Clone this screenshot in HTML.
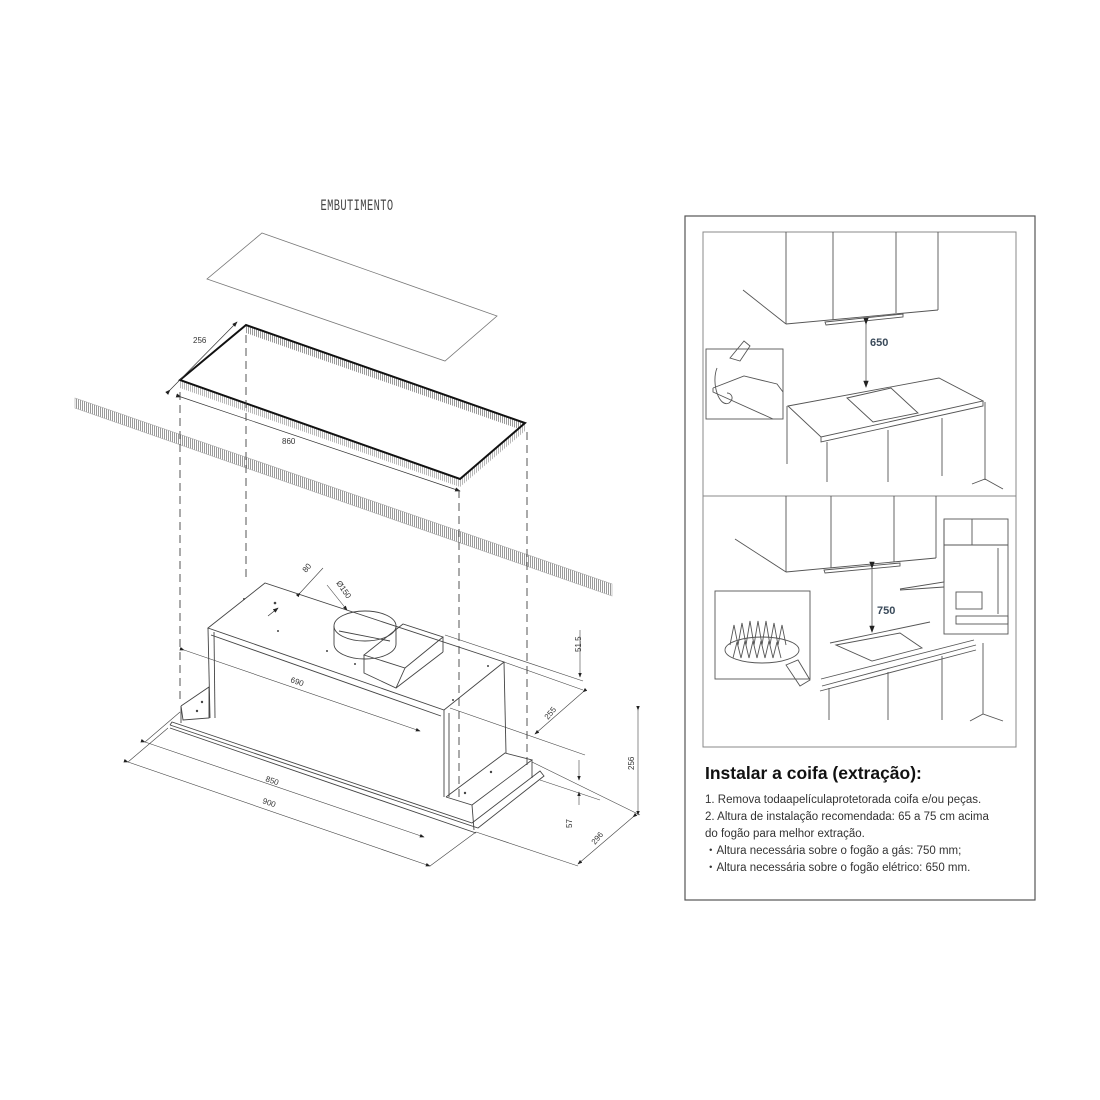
<!DOCTYPE html>
<html><head><meta charset="utf-8"><style>
html,body{margin:0;padding:0;background:#fff;}
svg{display:block;}
.t{font-family:"Liberation Sans Narrow","Liberation Sans",sans-serif;font-size:8px;fill:#333;}
.p{font-family:"Liberation Sans",sans-serif;fill:#333;}
</style></head><body>
<svg width="1100" height="1100" viewBox="0 0 1100 1100" xmlns="http://www.w3.org/2000/svg">
<defs>
<pattern id="h" width="2" height="4" patternUnits="userSpaceOnUse"><rect width="2" height="4" fill="#fff"/><rect width="1" height="4" fill="#999"/></pattern>
<marker id="a" markerWidth="8" markerHeight="6" refX="7" refY="3" orient="auto"><path d="M0,0L8,3L0,6z" fill="#222"/></marker>
</defs>
<rect width="1100" height="1100" fill="#fff"/>

<!-- LEFT DRAWING -->
<text x="357" y="209" text-anchor="middle" font-family="Liberation Mono,monospace" font-size="13" fill="#444" letter-spacing="0.5" transform="translate(357 205) scale(0.8 1.2) translate(-357 -205)">EMBUTIMENTO</text>
<polygon points="262,233 497,316 445,361 207,279" fill="none" stroke="#777" stroke-width="0.8"/>

<!-- long hatched bar -->
<polygon points="75,398 612,584 612,596 75,408" fill="url(#h)" stroke="#aaa" stroke-width="0.6"/>

<!-- frame -->
<polygon points="246,325 525,423 519,429 246,333" fill="url(#h)"/>
<polygon points="180,380 460,479 460,487 180,388" fill="url(#h)" opacity="0.7"/>
<polygon points="460,479 525,423 525,431 460,487" fill="url(#h)" opacity="0.7"/>
<polygon points="180,380 246,325 525,423 460,479" fill="none" stroke="#111" stroke-width="2"/>
<line x1="170" y1="390" x2="237" y2="322" stroke="#333" stroke-width="0.7" marker-end="url(#a)" marker-start="url(#a)"/>
<text class="t" x="193" y="343">256</text>
<line x1="181" y1="397" x2="460" y2="491" stroke="#333" stroke-width="0.7" marker-end="url(#a)" marker-start="url(#a)"/>
<text class="t" x="282" y="444">860</text>

<!-- dashed verticals -->
<g stroke="#444" stroke-width="0.9" stroke-dasharray="8,5">
<line x1="180" y1="392" x2="180" y2="700"/>
<line x1="246" y1="335" x2="246" y2="580"/>
<line x1="459" y1="490" x2="459" y2="800"/>
<line x1="527" y1="432" x2="527" y2="770"/>
</g>

<!-- hood -->
<g fill="none" stroke="#444" stroke-width="0.9">
<polygon points="208,628 265,583 504,662 444,710"/>
<line x1="208" y1="628" x2="210" y2="718"/>
<line x1="214" y1="632" x2="215" y2="718"/>
<line x1="444" y1="710" x2="444" y2="797"/>
<line x1="449" y1="713" x2="449" y2="797"/>
<line x1="504" y1="662" x2="506" y2="753"/>
<line x1="211" y1="635" x2="441" y2="716"/>
<!-- left flange -->
<polyline points="181,706 209,687 209,718 183,720 181,706"/>
<line x1="181" y1="706" x2="181" y2="723"/>
<!-- bottom strip -->
<polyline points="170,725 478,828 544,776 540,771 472,823 172,722 170,725"/>
<line x1="170" y1="728" x2="476" y2="833"/>
<!-- right bottom box -->
<polyline points="446,797 505,753 532,760 472,805 446,797"/>
<line x1="472" y1="805" x2="474" y2="830"/>
<line x1="532" y1="760" x2="532" y2="778"/>
<!-- duct -->
<ellipse cx="365" cy="626" rx="31" ry="15"/>
<path d="M334,626 v18 a31,15 0 0 0 62,0 v-18"/>
<line x1="339" y1="631" x2="390" y2="641"/>
<!-- motor box -->
<polygon points="364,655 403,624 443,637 405,668"/>
<polyline points="364,655 364,673 396,688 405,668"/>
<line x1="396" y1="688" x2="443" y2="652"/>
<line x1="443" y1="637" x2="443" y2="652"/>
</g>
<g fill="#444"><circle cx="275" cy="603" r="1.3"/><circle cx="244" cy="599" r="1"/><circle cx="355" cy="664" r="1"/><circle cx="327" cy="651" r="1"/><circle cx="278" cy="631" r="1"/><circle cx="488" cy="666" r="1"/><circle cx="453" cy="700" r="1"/><circle cx="465" cy="793" r="1.2"/><circle cx="491" cy="772" r="1.2"/><circle cx="197" cy="711" r="1.2"/><circle cx="202" cy="702" r="1.2"/></g>
<line x1="268" y1="616" x2="278" y2="608" stroke="#333" stroke-width="0.7" marker-end="url(#a)"/>

<!-- dims on hood -->
<g stroke="#444" stroke-width="0.6" fill="none">
<line x1="184" y1="650" x2="420" y2="731" marker-end="url(#a)" marker-start="url(#a)"/>
<line x1="145" y1="742" x2="424" y2="837" marker-end="url(#a)" marker-start="url(#a)"/>
<line x1="128" y1="762" x2="430" y2="866" marker-end="url(#a)" marker-start="url(#a)"/>
<line x1="145" y1="742" x2="180" y2="712"/>
<line x1="128" y1="762" x2="168" y2="728"/>
<line x1="430" y1="866" x2="476" y2="832"/>
<line x1="300" y1="593" x2="323" y2="568" marker-start="url(#a)"/>
<line x1="327" y1="585" x2="347" y2="610" marker-end="url(#a)"/>
<line x1="583" y1="692" x2="535" y2="734" marker-end="url(#a)" marker-start="url(#a)"/>
<line x1="633" y1="817" x2="578" y2="864" marker-end="url(#a)" marker-start="url(#a)"/>
<line x1="638" y1="710" x2="638" y2="815" marker-end="url(#a)" marker-start="url(#a)"/>
<line x1="580" y1="630" x2="580" y2="677" marker-end="url(#a)"/>
<line x1="579" y1="760" x2="579" y2="780" marker-end="url(#a)"/>
<line x1="579" y1="805" x2="579" y2="792" marker-end="url(#a)"/>
<line x1="445" y1="635" x2="583" y2="681"/>
<line x1="504" y1="662" x2="583" y2="690"/>
<line x1="450" y1="708" x2="585" y2="755"/>
<line x1="532" y1="762" x2="640" y2="815"/>
<line x1="476" y1="832" x2="578" y2="866"/>
<line x1="540" y1="780" x2="600" y2="800"/>
</g>
<text class="t" transform="translate(290 682) rotate(19)">690</text>
<text class="t" transform="translate(265 781) rotate(19)">850</text>
<text class="t" transform="translate(262 803) rotate(19)">900</text>
<text class="t" transform="translate(306 573) rotate(-50)">80</text>
<text class="t" transform="translate(336 583) rotate(55)">Ø150</text>
<text class="t" transform="translate(548 720) rotate(-50)">255</text>
<text class="t" transform="translate(595 845) rotate(-50)">296</text>
<text class="t" transform="translate(634 770) rotate(-90)">256</text>
<text class="t" transform="translate(581 652) rotate(-90)">51.5</text>
<text class="t" transform="translate(572 828) rotate(-90)">57</text>

<!-- RIGHT PANEL -->
<rect x="685" y="216" width="350" height="684" fill="#fff" stroke="#555" stroke-width="1.2"/>
<rect x="703" y="232" width="313" height="515" fill="none" stroke="#888" stroke-width="1"/>
<line x1="703" y1="496" x2="1016" y2="496" stroke="#888"/>
<g fill="none" stroke="#555" stroke-width="0.9">
<!-- top scene -->
<line x1="786" y1="232" x2="786" y2="324"/><line x1="833" y1="232" x2="833" y2="320"/><line x1="896" y1="232" x2="896" y2="313"/><line x1="938" y1="232" x2="938" y2="310"/>
<line x1="786" y1="324" x2="938" y2="310"/><line x1="743" y1="290" x2="786" y2="324"/>
<polygon points="825,322 903,314 903,317 826,325"/>
<line x1="866" y1="324" x2="866" y2="387" stroke="#666" marker-start="url(#a)" marker-end="url(#a)"/>
<polygon points="788,406 939,378 983,401 821,437"/>
<polyline points="821,437 821,442 983,406 983,401"/>
<polygon points="847,398 891,388 918,413 873,422"/>
<line x1="787" y1="406" x2="787" y2="464"/><line x1="827" y1="442" x2="827" y2="482"/><line x1="888" y1="430" x2="888" y2="482"/><line x1="942" y1="418" x2="942" y2="476"/><line x1="985" y1="402" x2="985" y2="480"/>
<polyline points="972,484 985,479 1003,489"/>
<rect x="706" y="349" width="77" height="70"/>
<polyline points="713,388 744,376 777,384 783,392"/>
<polyline points="713,388 713,392 773,419"/>
<path d="M717,368 c-6,15 2,40 12,35 c6,-5 2,-10 -2,-10"/>
<path d="M730,358 l14,-17 l6,5 l-10,15 z"/>
<!-- bottom scene -->
<line x1="786" y1="496" x2="786" y2="572"/><line x1="831" y1="496" x2="831" y2="568"/><line x1="894" y1="496" x2="894" y2="562"/><line x1="936" y1="496" x2="936" y2="558"/>
<line x1="786" y1="572" x2="936" y2="558"/><line x1="735" y1="539" x2="786" y2="572"/>
<polygon points="824,570 900,563 900,566 825,573"/>
<line x1="872" y1="568" x2="872" y2="632" stroke="#666" marker-start="url(#a)" marker-end="url(#a)"/>
<polyline points="900,589 944,582 944,520"/><polyline points="900,590 944,587"/>
<rect x="944" y="519" width="64" height="115"/><line x1="944" y1="545" x2="1008" y2="545"/><line x1="972" y1="519" x2="972" y2="545"/>
<line x1="998" y1="548" x2="998" y2="614"/>
<rect x="956" y="592" width="26" height="17"/><rect x="956" y="616" width="52" height="8"/>
<line x1="830" y1="643" x2="930" y2="622"/>
<polygon points="836,645 900,633 922,648 872,661"/>
<line x1="821" y1="679" x2="974" y2="640"/><line x1="822" y1="686" x2="976" y2="645"/><line x1="820" y1="691" x2="976" y2="650"/>
<line x1="829" y1="688" x2="829" y2="720"/><line x1="888" y1="672" x2="888" y2="720"/><line x1="942" y1="656" x2="942" y2="720"/><line x1="983" y1="643" x2="983" y2="714"/>
<polyline points="970,721 983,714 1003,721"/>
<rect x="715" y="591" width="95" height="88"/>
<ellipse cx="762" cy="650" rx="37" ry="13"/>
<path d="M730,645 l4,-20 l4,20 l4,-22 l4,22 l4,-24 l4,24 l4,-24 l4,24 l4,-24 l4,24 l4,-22 l4,22 l4,-20 l4,20"/>
<path d="M733,658 l4,-16 l4,16 l4,-17 l4,17 l4,-17 l4,17 l4,-17 l4,17 l4,-17 l4,17 l4,-16 l4,16"/>
<path d="M786,665 l12,-5 l12,20 l-10,6 z"/>
</g>
<text x="870" y="346" font-family="Liberation Sans,sans-serif" font-size="11" font-weight="bold" fill="#3a4a5a">650</text>
<text x="877" y="614" font-family="Liberation Sans,sans-serif" font-size="11" font-weight="bold" fill="#3a4a5a">750</text>

<text x="705" y="779" font-family="Liberation Sans,sans-serif" font-size="17.5" font-weight="bold" fill="#111">Instalar a coifa (extração):</text>
<g class="p" font-size="11.5">
<text x="705" y="803">1. Remova todaapelículaprotetorada coifa e/ou peças.</text>
<text x="705" y="820">2. Altura de instalação recomendada: 65 a 75 cm acima</text>
<text x="705" y="837">do fogão para melhor extração.</text>
<text x="705" y="854">・Altura necessária sobre o fogão a gás: 750 mm;</text>
<text x="705" y="871">・Altura necessária sobre o fogão elétrico: 650 mm.</text>
</g>
</svg>
</body></html>
